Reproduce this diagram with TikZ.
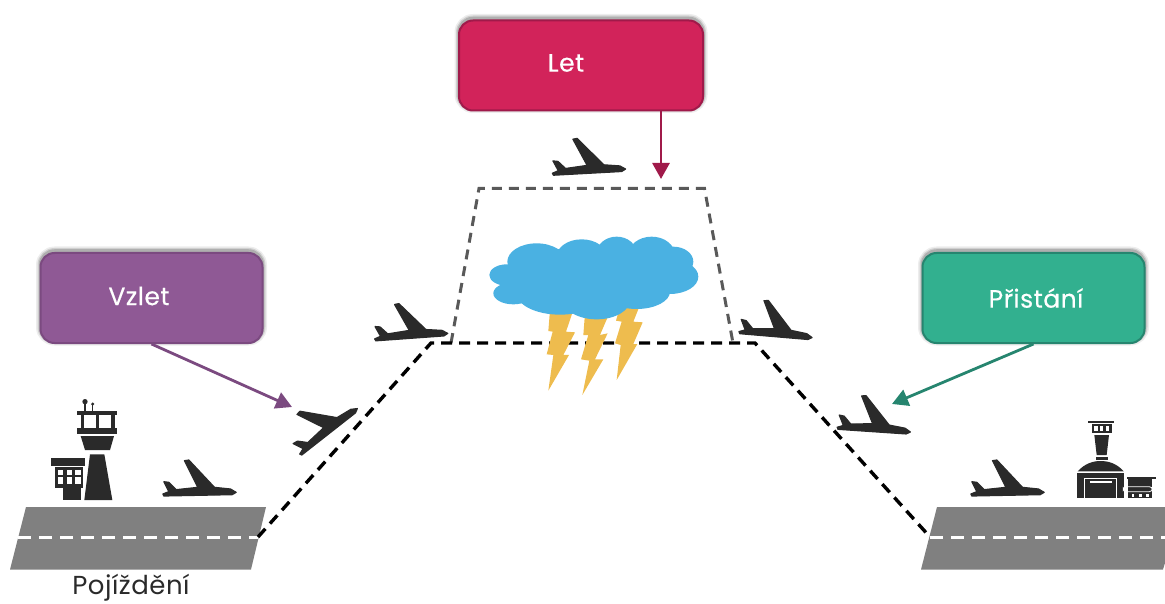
\documentclass[tikz,border=0pt]{standalone}
\usepackage{fontspec}
\setmainfont{Poppins}
\usetikzlibrary{arrows.meta}
\definecolor{ink}{HTML}{2A2A2A}
\definecolor{letfill}{HTML}{D2235A}
\definecolor{letline}{HTML}{A01A4A}
\definecolor{vzfill}{HTML}{8F5995}
\definecolor{vzline}{HTML}{7B4A80}
\definecolor{prfill}{HTML}{32B08F}
\definecolor{prline}{HTML}{26856F}
\definecolor{runway}{HTML}{808080}
\definecolor{cloudc}{HTML}{4AB1E2}
\definecolor{boltc}{HTML}{EEBC4E}
\tikzset{
  x=1pt,y=-1pt,
  flightbox/.style={rounded corners=14pt,line width=2pt,minimum height=90pt,
    preaction={draw=black,draw opacity=.07,line width=9pt,transform canvas={yshift=2pt}},
    preaction={draw=black,draw opacity=.12,line width=6pt,transform canvas={yshift=2pt}},
    preaction={draw=black,draw opacity=.16,line width=3.5pt,transform canvas={yshift=2pt}}},
  boxtext/.style={text=white,font=\fontsize{25}{29}\selectfont\addfontfeatures{LetterSpace=2,FakeBold=0.35}},
  route/.style={draw=black,line width=3.4pt,dash pattern=on 11pt off 7pt},
  zone/.style={draw=black!65,line width=3pt,dash pattern=on 10pt off 7pt},
  centre/.style={draw=white,line width=3.5pt,dash pattern=on 13pt off 8pt},
  callout/.style={line width=2.8pt,-{Triangle[length=16pt,width=17pt]}},
  strip/.style={fill=runway},
  bolt/.style={fill=boltc},
  solidink/.style={fill=ink}
}
\newcommand{\airplane}[2]{%
  \begin{scope}[shift={(#1)},rotate=#2,scale=1/3]
    \filldraw[ink,line width=1.2pt,line join=round] (-107,8) -- (-92,10) -- (-70,32) -- (-5,25) -- (-45,-55) -- (-32,-57) -- (45,25) -- (93,30) -- (110,40) -- (98,47) -- (-107,51) -- (-110,45) -- (-92,38) -- cycle;
  \end{scope}}
\begin{document}
\begin{tikzpicture}
\useasboundingbox (0,0) rectangle (1165,604);

% coordinates of the routes
\coordinate (startL) at (258,537);
\coordinate (topL) at (431,343);
\coordinate (topR) at (755,343);
\coordinate (endR) at (930,537);
\coordinate (zoneBL) at (451,343);
\coordinate (zoneTL) at (479,188.5);
\coordinate (zoneTR) at (704.5,188.5);
\coordinate (zoneBR) at (733,343);

% runways
\fill[strip] (26,507) -- (266,507) -- (251,569.5) -- (10,569.5) -- cycle;
\fill[strip] (937,507) -- (1165,507) -- (1165,563) -- (1163,569.5) -- (921,569.5) -- cycle;
\coordinate (rwLa) at (18,537.5);
\coordinate (rwLb) at (258,537.5);
\coordinate (rwRa) at (930,537.5);
\coordinate (rwRb) at (1165,537.5);
\draw[centre] (rwLa) -- (rwLb);
\draw[centre] (rwRa) -- (rwRb);

% dashed routes
\draw[zone] (zoneBL) -- (zoneTL) -- (zoneTR) -- (zoneBR);
\draw[route] (startL) -- (topL) -- (topR) -- (endR);

% lightning
\begin{scope}[shift={(530,300)},scale=1/3]
  \fill[bolt] (60,30) -- (130,30) -- (108,95) -- (135,97) -- (100,165) -- (117,165) -- (55,272) -- (70,165) -- (50,163) -- (68,95) -- (55,93) -- cycle;
  \fill[bolt] (165,40) -- (238,40) -- (210,105) -- (233,100) -- (195,178) -- (220,178) -- (157,285) -- (178,182) -- (153,178) -- (175,105) -- (160,105) -- cycle;
  \fill[bolt] (270,20) -- (330,15) -- (310,65) -- (338,67) -- (310,132) -- (322,132) -- (260,240) -- (272,135) -- (255,130) -- (275,65) -- (258,62) -- cycle;
\end{scope}

% cloud
\begin{scope}[shift={(360,130)},scale=1/3]
  \fill[cloudc] (530,395) ellipse [x radius=88,y radius=55];
  \fill[cloudc] (665,380) ellipse [x radius=75,y radius=52];
  \fill[cloudc] (770,370) ellipse [x radius=60,y radius=50];
  \fill[cloudc] (875,375) ellipse [x radius=70,y radius=55];
  \fill[cloudc] (940,395) ellipse [x radius=60,y radius=45];
  \fill[cloudc] (930,440) ellipse [x radius=85,y radius=52];
  \fill[cloudc] (440,435) ellipse [x radius=52,y radius=32];
  \fill[cloudc] (460,490) ellipse [x radius=60,y radius=33];
  \fill[cloudc] (600,490) ellipse [x radius=130,y radius=64];
  \fill[cloudc] (710,510) ellipse [x radius=100,y radius=58];
  \fill[cloudc] (830,485) ellipse [x radius=100,y radius=52];
  \fill[cloudc] (700,430) ellipse [x radius=250,y radius=80];
\end{scope}

% planes
\airplane{199.5,479}{0}
\airplane{1007.5,479}{0}
\airplane{588.5,157}{2}
\airplane{410.5,322}{3}
\airplane{777,320.5}{-6}
\airplane{875,415.5}{-5}
\airplane{320,420}{37}

% left tower
\begin{scope}[shift={(40,390)},scale=1/3]
  \fill[ink] (135,35) circle (8);
  \fill[ink] (158,42) circle (5);
  \fill[ink] (132,35) rectangle (138,62);
  \fill[ink] (156,42) rectangle (160,62);
  \fill[solidink] (110,62) rectangle (232,75);
  \fill[solidink] (122,75) rectangle (132,115);
  \fill[solidink] (167,75) rectangle (176,115);
  \fill[solidink] (214,75) rectangle (224,115);
  \fill[solidink] (110,113) rectangle (232,132);
  \fill[solidink] (122,138) -- (222,138) -- (210,180) -- (135,180) -- cycle;
  \fill[solidink] (150,193) -- (193,193) -- (217,330) -- (133,330) -- cycle;
  \fill[solidink] (33,205) rectangle (135,228);
  \fill[solidink] (45,232) rectangle (128,295);
  \fill[solidink] (70,295) rectangle (123,330);
  \fill[white] (54,262) rectangle (70,283);
  \fill[white] (80,262) rectangle (95,283);
  \fill[white] (105,262) rectangle (122,283);
  \fill[white] (54,240) rectangle (70,255);
  \fill[white] (80,240) rectangle (95,255);
  \fill[white] (105,240) rectangle (122,255);
\end{scope}

% right tower
\begin{scope}[shift={(1065,410)},scale=1/3]
  \fill[solidink] (70,32) rectangle (147,38);
  \fill[solidink] (80,42) rectangle (140,70);
  \fill[white] (88,48) rectangle (98,62);
  \fill[white] (105,48) rectangle (115,62);
  \fill[white] (122,48) rectangle (132,62);
  \fill[solidink] (88,75) -- (132,75) -- (125,135) -- (95,135) -- cycle;
  \fill[solidink] (92,140) rectangle (128,150);
  \fill[solidink] (38,184) .. controls (60,160) and (85,153) .. (106,153) .. controls (130,153) and (155,160) .. (176,184) -- cycle;
  \fill[solidink] (35,190) rectangle (178,265);
  \draw[white,line width=1.2pt] (58,265) -- (58,205) -- (155,205) -- (155,265);
  \draw[white,line width=1.2pt] (75,216) -- (140,216);
  \fill[solidink] (185,200) rectangle (272,208);
  \fill[solidink] (190,208) rectangle (262,265);
  \draw[white,line width=.8pt,rounded corners=3pt] (175,230) rectangle (262,245);
  \fill[white] (200,252) rectangle (208,260);
  \fill[white] (222,252) rectangle (230,260);
  \fill[white] (244,252) rectangle (252,260);
\end{scope}

% boxes
\node[flightbox,draw=letline,fill=letfill,minimum width=244pt] (let) at (581,65.5) {};
\node[flightbox,draw=vzline,fill=vzfill,minimum width=222pt] (vzlet) at (151.5,298) {};
\node[flightbox,draw=prline,fill=prfill,minimum width=222pt] (pristani) at (1033.5,298) {};
\node[boxtext] (letText) at (566,63) {Let};
\node[boxtext] (vzletText) at (139,296) {Vzlet};
\node[boxtext] (pristaniText) at (1036,298) {Přistání};

% callouts
\coordinate (letTip) at (661,179);
\coordinate (vzletTip) at (292,407);
\coordinate (pristaniTip) at (892,404);
\draw[callout,letline] (let.south -| letTip) -- (letTip);
\draw[callout,vzline] (vzlet.south) -- (vzletTip);
\draw[callout,prline] (pristani.south) -- (pristaniTip);

\node[text=ink,inner sep=0pt,font=\fontsize{26}{30}\selectfont\addfontfeatures{LetterSpace=2}] (taxi) at (131,588) {Pojíždění};
\end{tikzpicture}
\end{document}
